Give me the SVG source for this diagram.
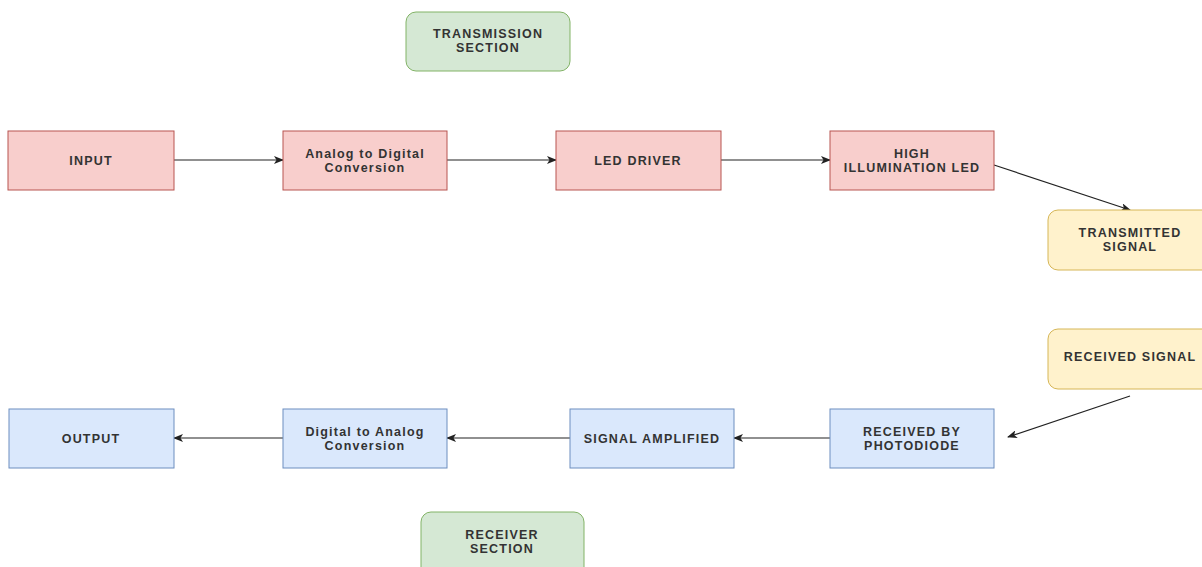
<svg xmlns="http://www.w3.org/2000/svg" width="1202" height="567" viewBox="0 0 1202 567">
<defs>
<style>
.t{font-family:"Liberation Sans",Arial,sans-serif;font-weight:bold;font-size:12.5px;fill:#333;text-anchor:middle;letter-spacing:1.2px}
.red{fill:#f8cecc;stroke:#b85450;stroke-width:1}
.blue{fill:#dae8fc;stroke:#6c8ebf;stroke-width:1}
.green{fill:#d5e8d4;stroke:#82b366;stroke-width:1}
.yellow{fill:#fff2cc;stroke:#d6b656;stroke-width:1}
.c{stroke:#222;stroke-width:1.2;fill:none;marker-end:url(#ah)}
</style>
<marker id="ah" viewBox="0 0 10 8" refX="9" refY="4" markerWidth="10" markerHeight="8" markerUnits="userSpaceOnUse" orient="auto">
<path d="M0,0 L10,4 L0,8 L2.5,4 z" fill="#222"/>
</marker>
</defs>
<rect width="1202" height="567" fill="#fff"/>
<g id="connectors">
<line class="c" x1="174" y1="160" x2="283" y2="160"/>
<line class="c" x1="447" y1="160" x2="556" y2="160"/>
<line class="c" x1="721" y1="160" x2="830" y2="160"/>
<line class="c" x1="994" y1="165" x2="1130" y2="210"/>
<line class="c" x1="1130" y1="396" x2="1008" y2="437"/>
<line class="c" x1="830" y1="438" x2="734" y2="438"/>
<line class="c" x1="570" y1="438" x2="447" y2="438"/>
<line class="c" x1="283" y1="438" x2="174" y2="438"/>
</g>
<g id="transmission-section">
<rect class="green" x="406" y="12" width="164" height="59" rx="10"/>
<text class="t" x="488" y="38">TRANSMISSION</text>
<text class="t" x="488" y="52">SECTION</text>
</g>
<g id="input">
<rect class="red" x="8" y="131" width="166" height="59"/>
<text class="t" x="91" y="165">INPUT</text>
</g>
<g id="adc">
<rect class="red" x="283" y="131" width="164" height="59"/>
<text class="t" x="365" y="158">Analog to Digital</text>
<text class="t" x="365" y="172">Conversion</text>
</g>
<g id="led-driver">
<rect class="red" x="556" y="131" width="165" height="59"/>
<text class="t" x="638" y="165">LED DRIVER</text>
</g>
<g id="high-led">
<rect class="red" x="830" y="131" width="164" height="59"/>
<text class="t" x="912" y="158">HIGH</text>
<text class="t" x="912" y="172">ILLUMINATION LED</text>
</g>
<g id="transmitted-signal">
<rect class="yellow" x="1048" y="210" width="164" height="60" rx="10"/>
<text class="t" x="1130" y="237">TRANSMITTED</text>
<text class="t" x="1130" y="251">SIGNAL</text>
</g>
<g id="received-signal">
<rect class="yellow" x="1048" y="329" width="164" height="60" rx="10"/>
<text class="t" x="1130" y="361">RECEIVED SIGNAL</text>
</g>
<g id="photodiode">
<rect class="blue" x="830" y="409" width="164" height="59"/>
<text class="t" x="912" y="436">RECEIVED BY</text>
<text class="t" x="912" y="450">PHOTODIODE</text>
</g>
<g id="amplified">
<rect class="blue" x="570" y="409" width="164" height="59"/>
<text class="t" x="652" y="443">SIGNAL AMPLIFIED</text>
</g>
<g id="dac">
<rect class="blue" x="283" y="409" width="164" height="59"/>
<text class="t" x="365" y="436">Digital to Analog</text>
<text class="t" x="365" y="450">Conversion</text>
</g>
<g id="output">
<rect class="blue" x="9" y="409" width="165" height="59"/>
<text class="t" x="91" y="443">OUTPUT</text>
</g>
<g id="receiver-section">
<rect class="green" x="421" y="512" width="163" height="70" rx="10"/>
<text class="t" x="502" y="539">RECEIVER</text>
<text class="t" x="502" y="553">SECTION</text>
</g>
</svg>
